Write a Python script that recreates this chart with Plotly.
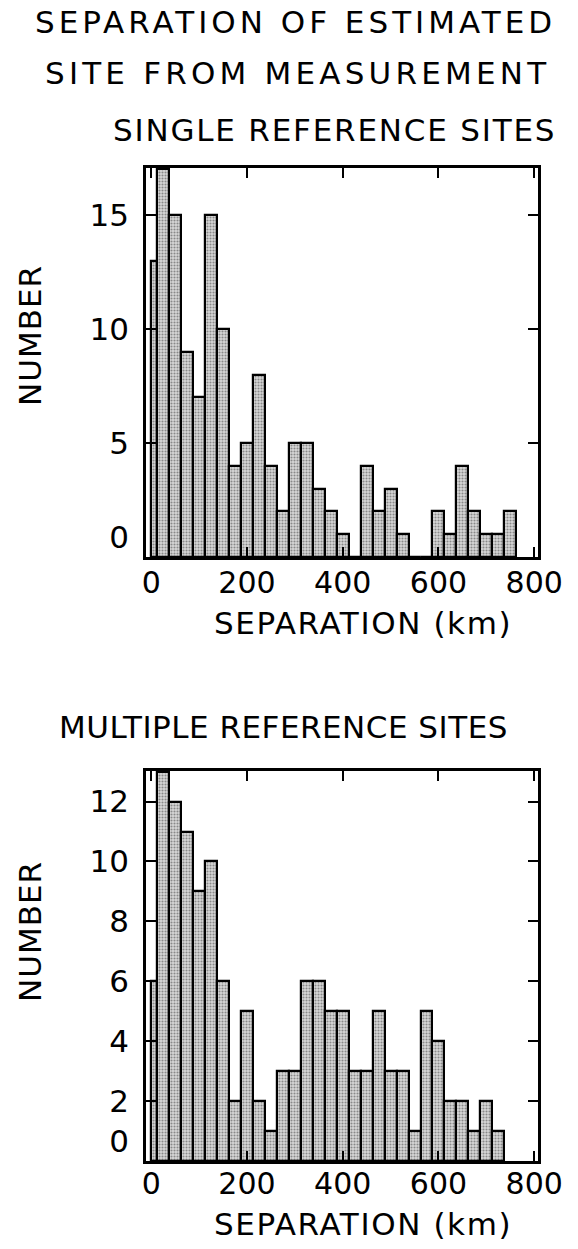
import plotly.graph_objects as go

# Histogram bins: 25 km wide, centred on multiples of 25 km (first bin clipped at 0)
bin_width = 25
single_centers = [i * 25 for i in range(31)]
single_counts = [13, 17, 15, 9, 7, 15, 10, 4, 5, 8, 4, 2, 5, 5, 3, 2, 1, 0,
                 4, 2, 3, 1, 0, 0, 2, 1, 4, 2, 1, 1, 2]
multiple_centers = [i * 25 for i in range(30)]
multiple_counts = [6, 13, 12, 11, 9, 10, 6, 2, 5, 2, 1, 3, 3, 6, 6, 5, 5, 3,
                   3, 5, 3, 3, 1, 5, 4, 2, 2, 1, 2, 1]

x_ticks = [0, 200, 400, 600, 800]
single_y_ticks = [0, 5, 10, 15]
multiple_y_ticks = [0, 2, 4, 6, 8, 10, 12]

FONT = "DejaVu Sans"
W, H = 578, 1249


def bar_geometry(centers):
    xs, ws = [], []
    for c in centers:
        lo = max(0, c - bin_width / 2)
        hi = c + bin_width / 2
        xs.append((lo + hi) / 2)
        ws.append(hi - lo)
    return xs, ws


def spaced(text, ls=3):
    return f'<span style="letter-spacing:{ls}px">{text}</span>'


fig = go.Figure()

for centers, counts, xa, ya in [(single_centers, single_counts, "x", "y"),
                                (multiple_centers, multiple_counts, "x2", "y2")]:
    xs, ws = bar_geometry(centers)
    fig.add_trace(go.Bar(
        x=xs, y=counts, width=ws, xaxis=xa, yaxis=ya,
        marker=dict(
            color="#d8d8d8",
            line=dict(color="black", width=2.2),
            pattern=dict(shape=".", fgcolor="#3a3a3a", bgcolor="#d8d8d8",
                         size=3, solidity=0.4),
        ),
        showlegend=False, hoverinfo="skip",
    ))

x_dom = [146 / W, 538 / W]
top_dom = [1 - 557 / H, 1 - 168 / H]
bot_dom = [1 - 1161 / H, 1 - 771 / H]


def x_axis(anchor, standoff):
    return dict(
        range=[-11, 808], tickvals=x_ticks, ticktext=[str(v) for v in x_ticks],
        ticks="inside", ticklen=10, tickwidth=2, tickcolor="black",
        showline=True, linewidth=2.5, linecolor="black", mirror="ticks",
        showgrid=False, zeroline=False, domain=x_dom, anchor=anchor,
        tickfont=dict(family=FONT, size=30, color="black"),
        ticklabelstandoff=standoff, automargin=False,
    )


def y_axis(rng, ticks, dom, anchor):
    # "0" label lifted by one blank line so it clears the x-axis "0"
    text = ["0<br> "] + [str(v) for v in ticks[1:]]
    return dict(
        range=rng, tickvals=ticks, ticktext=text, domain=dom, anchor=anchor,
        ticks="inside", ticklen=10, tickwidth=2, tickcolor="black",
        showline=True, linewidth=2.5, linecolor="black", mirror="ticks",
        showgrid=False, zeroline=False,
        tickfont=dict(family=FONT, size=31, color="black"),
        ticklabelstandoff=8, automargin=False,
    )


annotations = []


def label(text, x, y, size=31, angle=0, ls=3):
    annotations.append(dict(
        text=spaced(text, ls), x=x / W, y=1 - y / H, xref="paper", yref="paper",
        showarrow=False, xanchor="center", yanchor="middle", textangle=angle,
        font=dict(family=FONT, size=size, color="black"),
    ))


label("SEPARATION OF ESTIMATED", 295, 22, ls=4)
label("SITE FROM MEASUREMENT", 297, 73, ls=4.2)
label("SINGLE REFERENCE SITES", 334, 130, ls=1.8)
label("SEPARATION (km)", 363, 623, ls=1.6)
label("MULTIPLE REFERENCE SITES", 283, 727, ls=0.5)
label("SEPARATION (km)", 363, 1224, ls=1.6)
label("NUMBER", 30, 336, angle=-90, ls=1)
label("NUMBER", 30, 932, angle=-90, ls=1)

fig.update_layout(
    width=W, height=H, autosize=False,
    margin=dict(l=0, r=0, t=0, b=0, pad=0, autoexpand=False),
    paper_bgcolor="white", plot_bgcolor="white",
    bargap=0,
    xaxis=x_axis("y", -3),
    xaxis2=x_axis("y2", -6),
    yaxis=y_axis([0, 17.06], single_y_ticks, top_dom, "x"),
    yaxis2=y_axis([0, 13.02], multiple_y_ticks, bot_dom, "x2"),
    annotations=annotations,
)

fig.write_html("out.html")
